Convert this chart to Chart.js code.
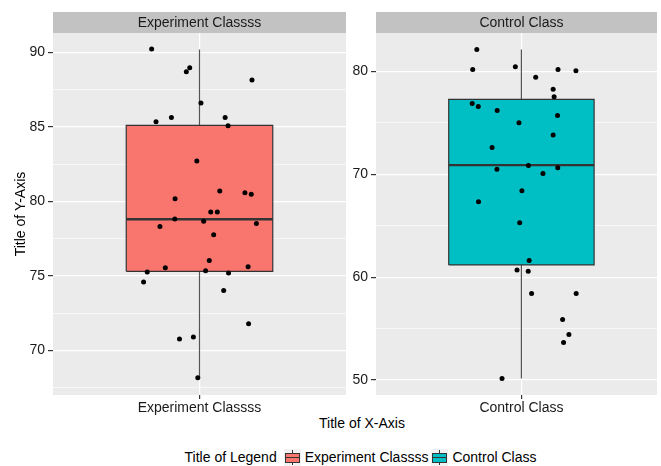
<!DOCTYPE html>
<html>
<head>
<meta charset="utf-8">
<script src="https://cdn.jsdelivr.net/npm/chart.js@4.4.1/dist/chart.umd.min.js"></script>
<style>
  body { margin: 0; background: #fff; font-family: "Liberation Sans", Arial, sans-serif; }
  #wrap { position: relative; width: 661px; height: 466px; overflow: hidden; }
  .panel { position: absolute; top: 0; height: 415px; }
  #xtitle { position: absolute; left: 262px; width: 200px; top: 415px; text-align: center;
            font-size: 14px; line-height: 17px; color: #000; }
  #legend { position: absolute; left: 0; width: 724px; top: 448px; height: 18px;
            display: flex; justify-content: center; align-items: center;
            font-size: 14px; color: #000; white-space: nowrap; }
  .key { position: relative; display: inline-block; width: 17px; height: 17px; background: #F2F2F2; }
  .key .wh { position: absolute; left: 8px; top: 1px; width: 1px; height: 15px; background: #333; }
  .key .bx { position: absolute; left: 1px; top: 4px; width: 13px; height: 8px; border: 1px solid #333; }
  .key .md { position: absolute; left: 1px; top: 8px; width: 15px; height: 1px; background: #333; }
</style>
</head>
<body>
<div id="wrap">
  <div class="panel" style="left:0;width:350px"><canvas id="expChart"></canvas></div>
  <div class="panel" style="left:350px;width:311px"><canvas id="ctrlChart"></canvas></div>
  <div id="xtitle">Title of X-Axis</div>
  <div id="legend"></div>
</div>
<script>
// facet / category names
const categories = ['Experiment Classss', 'Control Class'];
const fillColors = ['#F8766D', '#00BFC4'];

// box stats: lower whisker, q1, median, q3, upper whisker
const expBox = [68.15, 75.3, 78.8, 85.1, 90.2];
const ctrlBox = [50.15, 61.2, 70.9, 77.3, 82.15];

// jittered points (x = jittered category position, y = score)
const expX = [0.804, 0.960, 0.946, 1.215, 1.006, 0.822, 0.885, 1.105, 1.117, 0.989, 1.083,
              0.900, 1.186, 1.212, 1.046, 1.073, 0.899, 1.017, 0.838, 1.233, 1.058,
              1.040, 0.860, 1.199, 0.786, 1.025, 1.119, 0.771, 1.099, 1.201, 0.918, 0.975, 0.993];
const expY = [90.22, 88.97, 88.70, 88.14, 86.60, 85.35, 85.62, 85.62, 85.08, 82.71, 80.70,
              80.17, 80.57, 80.48, 79.28, 79.28, 78.81, 78.67, 78.31, 78.51, 77.76,
              76.03, 75.54, 75.61, 75.25, 75.34, 75.19, 74.58, 74.02, 71.79, 70.76, 70.90, 68.15];
const ctrlX = [0.816, 0.799, 0.975, 1.151, 1.225, 1.059, 1.131, 1.135, 0.797, 0.822, 0.900,
               1.149, 0.990, 1.131, 0.879, 1.029, 0.899, 1.150, 1.089, 1.002, 0.823, 0.993,
               1.032, 0.982, 1.028, 1.042, 1.226, 1.170, 1.196, 1.174, 0.920];
const ctrlY = [82.14, 80.19, 80.46, 80.19, 80.07, 79.45, 78.28, 77.54, 76.89, 76.60, 76.21,
               75.73, 75.02, 73.82, 72.62, 70.87, 70.51, 70.65, 70.10, 68.42, 67.35, 65.31,
               61.62, 60.71, 60.58, 58.42, 58.42, 55.89, 54.43, 53.66, 50.16];

// axis ticks
const expTicks = [70, 75, 80, 85, 90];
const expMinor = [67.5, 72.5, 77.5, 82.5, 87.5];
const ctrlTicks = [50, 60, 70, 80];
const ctrlMinor = [55, 65, 75];

const BOX_HALF = 0.3;
const FONT = { family: '"Liberation Sans", Arial, sans-serif', size: 14 };

const facetPlugin = {
  id: 'facet',
  beforeDraw(chart, args, opts) {
    const { ctx, chartArea: a } = chart;
    ctx.save();
    ctx.fillStyle = '#EBEBEB';
    ctx.fillRect(a.left, a.top, a.right - a.left, a.bottom - a.top);
    ctx.fillStyle = '#C2C2C2';
    ctx.fillRect(a.left, a.top - 21, a.right - a.left, 21);
    ctx.fillStyle = '#1A1A1A';
    ctx.font = '14px "Liberation Sans", Arial, sans-serif';
    ctx.textAlign = 'center';
    ctx.textBaseline = 'middle';
    ctx.fillText(opts.text, chart.scales.x.getPixelForValue(1), a.top - 10);
    ctx.restore();
  }
};

function boxDatasets(stats, color) {
  const [lo, q1, med, q3, hi] = stats;
  const l = 1 - BOX_HALF, r = 1 + BOX_HALF;
  const base = { type: 'line', pointRadius: 0, tension: 0, showLine: true };
  return [
    { ...base, data: [{x: l, y: med}, {x: r, y: med}], borderColor: '#333', borderWidth: 2.4 },
    { ...base, data: [{x: l, y: q1}, {x: r, y: q1}, {x: r, y: q3}, {x: l, y: q3}, {x: l, y: q1}],
      borderColor: '#333', borderWidth: 1.2 },
    { ...base, data: [{x: l, y: q3}, {x: r, y: q3}], borderColor: 'rgba(0,0,0,0)', fill: false },
    { ...base, data: [{x: l, y: q1}, {x: r, y: q1}], borderColor: 'rgba(0,0,0,0)',
      fill: '-1', backgroundColor: color },
    { ...base, data: [{x: 1, y: lo}, {x: 1, y: hi}], borderColor: '#555', borderWidth: 1.2 }
  ];
}

function plotPanel(id, cfg) {
  const pts = cfg.xs.map((x, i) => ({ x: x, y: cfg.ys[i] }));
  const allTicks = cfg.major.concat(cfg.minor).sort((a, b) => a - b);
  const isMajor = v => cfg.major.includes(v);
  return new Chart(id, {
    type: 'scatter',
    data: {
      datasets: [
        { type: 'scatter', data: pts, pointRadius: 2.5, backgroundColor: '#000', borderWidth: 0 },
        ...boxDatasets(cfg.box, cfg.color)
      ]
    },
    options: {
      responsive: true,
      maintainAspectRatio: false,
      animation: false,
      layout: { padding: { top: 33, right: cfg.padRight, bottom: 0, left: 0 } },
      plugins: {
        legend: { display: false },
        tooltip: { enabled: false },
        facet: { text: cfg.label }
      },
      scales: {
        x: {
          type: 'linear', min: 0.4, max: cfg.xMax,
          afterBuildTicks: s => { s.ticks = [{ value: 1 }]; },
          afterFit: s => { s.height = 20; },
          ticks: { callback: () => cfg.label, font: FONT, color: '#1A1A1A', padding: 1, maxRotation: 0, autoSkip: false },
          grid: { color: '#fff', lineWidth: 1.2, tickLength: 4, tickColor: '#333' },
          border: { display: false }
        },
        y: {
          type: 'linear', min: cfg.yMin, max: cfg.yMax,
          afterBuildTicks: s => { s.ticks = allTicks.map(v => ({ value: v })); },
          afterFit: s => { s.width = cfg.yWidth; },
          ticks: { callback: v => isMajor(v) ? String(v) : '', font: FONT, color: '#1A1A1A', padding: 3, autoSkip: false },
          grid: {
            color: '#fff',
            lineWidth: c => isMajor(c.tick.value) ? 1.2 : 0.6,
            tickLength: 5,
            tickColor: c => isMajor(c.tick.value) ? '#333' : 'rgba(0,0,0,0)'
          },
          border: { display: false },
          title: { display: !!cfg.yTitle, text: cfg.yTitle, font: FONT, color: '#000', padding: { top: 13, bottom: 0 } }
        }
      }
    },
    plugins: [facetPlugin]
  });
}

plotPanel('expChart', {
  label: categories[0], color: fillColors[0], box: expBox, xs: expX, ys: expY,
  major: expTicks, minor: expMinor, yMin: 67.0, yMax: 91.3, xMax: 1.6,
  yWidth: 53, padRight: 2, yTitle: 'Title of Y-Axis'
});
plotPanel('ctrlChart', {
  label: categories[1], color: fillColors[1], box: ctrlBox, xs: ctrlX, ys: ctrlY,
  major: ctrlTicks, minor: ctrlMinor, yMin: 48.55, yMax: 83.75, xMax: 1.5595,
  yWidth: 26, padRight: 0, yTitle: ''
});

// shared legend (ggplot style: title inline, boxplot keys)
const legend = document.getElementById('legend');
let html = '<span style="margin-right:7px">Title of Legend</span>';
categories.forEach((c, i) => {
  html += '<span class="key"><span class="wh"></span><span class="bx" style="background:' + fillColors[i] +
          '"></span><span class="md"></span></span><span style="margin:0 3px 0 4px">' + c + '</span>';
});
legend.innerHTML = html;
</script>
</body>
</html>
